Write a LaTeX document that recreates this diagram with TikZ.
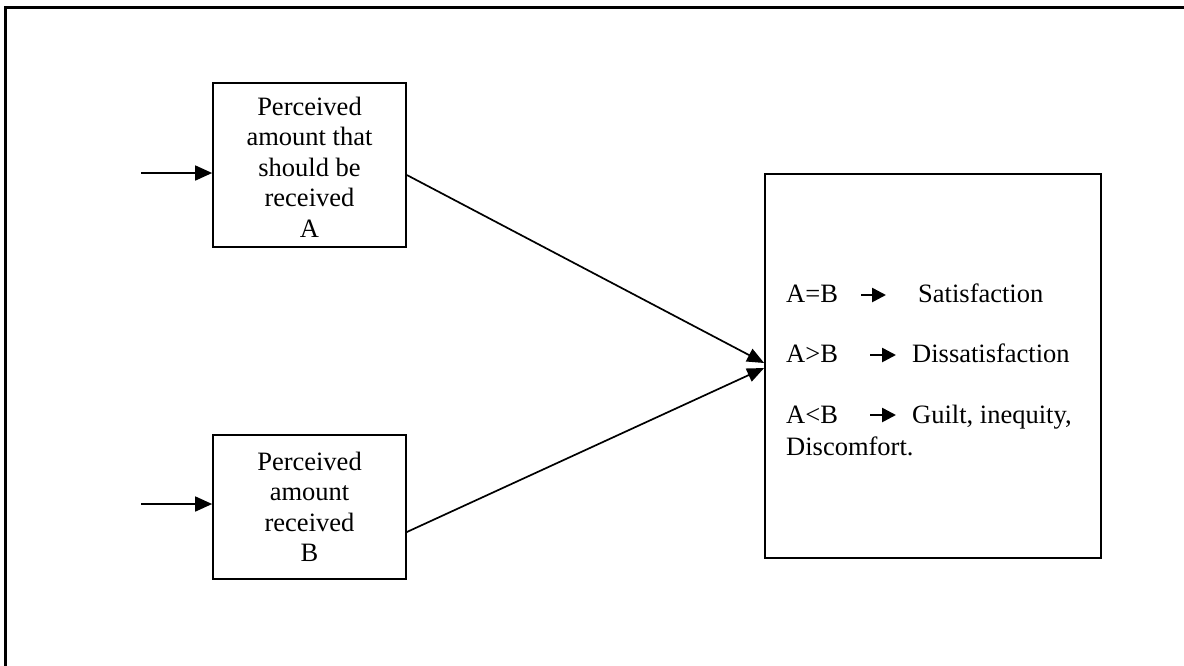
\documentclass[tikz,border=0pt]{standalone}
\usepackage{fontspec}
\setmainfont{Liberation Serif}
\usetikzlibrary{arrows.meta}
\begin{document}
\begin{tikzpicture}[x=1pt,y=-1pt,
  boxstyle/.style={draw,line width=1.7pt,inner sep=0pt},
  txt/.style={font=\fontsize{26.5}{30.5}\selectfont,inner sep=0pt},
  inarrow/.style={line width=1.7pt,-{Triangle[length=17pt,width=15pt]}},
  convarrow/.style={line width=1.7pt,-{Triangle[length=17pt,width=14pt]}},
  textarrow/.style={line width=2.6pt,-{Triangle[length=14pt,width=14pt]}}]
\useasboundingbox (0,0) rectangle (1184,665);
% outer frame (only top and left edges visible)
\draw[line width=2.6pt] (5.7,666) -- (5.7,7.5) -- (1185,7.5);
% boxes
\node[boxstyle,minimum width=193pt,minimum height=164pt] (boxA) at (309.5,165) {};
\node[boxstyle,minimum width=193pt,minimum height=144pt] (boxB) at (309.5,507) {};
\node[boxstyle,minimum width=336pt,minimum height=384pt] (R) at (933,366) {};
% box texts (base = baseline of last line)
\node[txt,align=center,anchor=base] (tA) at (309.5,237) {Perceived\\amount that\\should be\\received\\A};
\node[txt,align=center,anchor=base] (tB) at (309.5,561.7) {Perceived\\amount\\received\\B};
% right box texts
\node[txt,anchor=base west] (e1) at (786,302) {A=B};
\node[txt,anchor=base west] (r1) at (918,302) {Satisfaction};
\node[txt,anchor=base west] (e2) at (786,362.7) {A>B};
\node[txt,anchor=base west] (r2) at (912,362.7) {Dissatisfaction};
\node[txt,anchor=base west] (e3) at (786,423) {A<B};
\node[txt,anchor=base west] (r3) at (912,423) {Guilt, inequity,};
\node[txt,anchor=base west] (r4) at (786,455) {Discomfort.};
% text arrows
\coordinate (a1s) at (861,295); \coordinate (a1e) at (886,295);
\coordinate (a2s) at (870,355); \coordinate (a2e) at (896,355);
\coordinate (a3s) at (870,415); \coordinate (a3e) at (896,415);
\draw[textarrow] (a1s) -- (a1e);
\draw[textarrow] (a2s) -- (a2e);
\draw[textarrow] (a3s) -- (a3e);
% input arrows
\coordinate (inA) at (141,173);
\coordinate (inB) at (141,504);
\draw[inarrow] (inA) -- (inA -| boxA.west);
\draw[inarrow] (inB) -- (inB -| boxB.west);
% converging arrows
\draw[convarrow] ([yshift=-10pt]boxA.east) -- ([yshift=3pt]R.west);
\draw[convarrow] ([yshift=-25pt]boxB.east) -- ([yshift=-2pt]R.west);
\end{tikzpicture}
\end{document}
